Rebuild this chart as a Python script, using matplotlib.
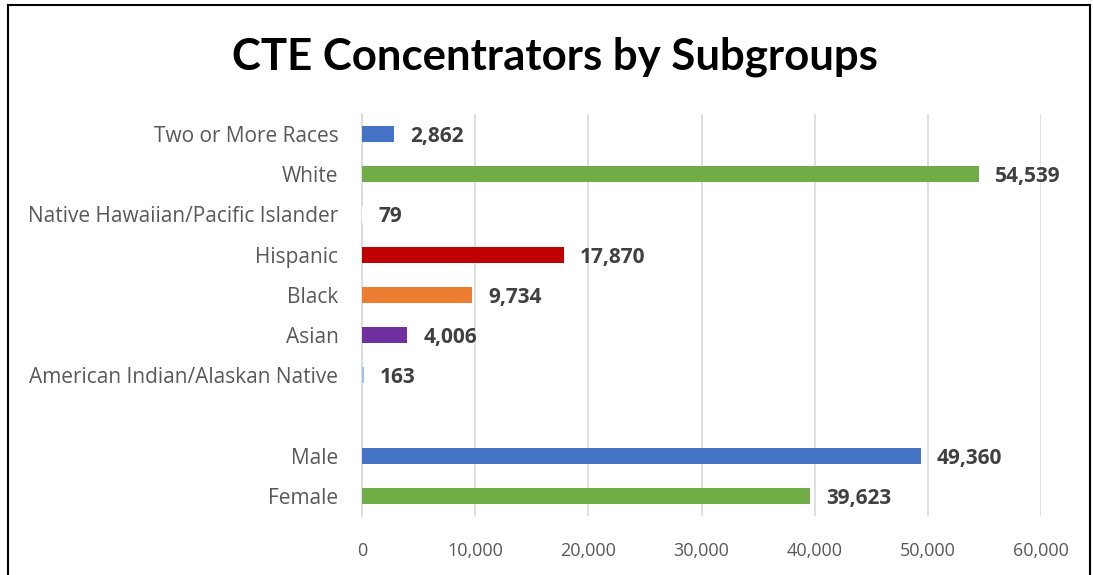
import matplotlib
matplotlib.use("Agg")
import matplotlib.pyplot as plt
from matplotlib.lines import Line2D

categories = ["Female", "Male", "", "American Indian/Alaskan Native", "Asian", "Black",
              "Hispanic", "Native Hawaiian/Pacific Islander", "White", "Two or More Races"]
values = [39623, 49360, None, 163, 4006, 9734, 17870, 79, 54539, 2862]
colors = ["#70AD47", "#4472C4", None, "#9DC3E6", "#7030A0", "#ED7D31",
          "#C00000", "#FFFFFF", "#70AD47", "#4472C4"]
xticks = [0, 10000, 20000, 30000, 40000, 50000, 60000]

plt.rcParams['font.family'] = ['Open Sans', 'DejaVu Sans']

fig = plt.figure(figsize=(10.93, 5.75), dpi=100)
ax = fig.add_axes([362/1093, 1-516/575, (1041-362)/1093, (516-114)/575])

for i, (v, c) in enumerate(zip(values, colors)):
    if v is None:
        continue
    ax.barh(i, v, height=0.4, color=c, zorder=3)
    ax.text(v + 1400, i - 0.06, f"{v:,}", va="center", ha="left",
            fontsize=15, fontweight="bold", color="#404040")

ax.set_xlim(0, 60000)
ax.set_ylim(-0.5, 9.5)
ax.set_xticks(xticks)
ax.set_xticklabels([f"{t:,}" for t in xticks], fontsize=13, color="#595959")
ax.set_yticks(range(len(categories)))
ax.set_yticklabels(categories, fontsize=15, color="#595959")
ax.tick_params(axis="both", length=0)
ax.tick_params(axis="x", pad=19)
ax.tick_params(axis="y", pad=17)
ax.grid(axis="x", color="#D9D9D9", linewidth=1.2, zorder=0)
for s in ["top", "right", "bottom"]:
    ax.spines[s].set_visible(False)
ax.spines["left"].set_color("#D9D9D9")
ax.spines["left"].set_linewidth(1.2)

fig.text(555/1093, 1-57/575, "CTE Concentrators by Subgroups", ha="center", va="center",
         family=['Lato', 'DejaVu Sans'], fontsize=31.5, fontweight="bold", color="black")

# border
fig.add_artist(Line2D([8/1093, 8/1093], [0, 1-5/575], color="black", lw=1.5, transform=fig.transFigure))
fig.add_artist(Line2D([1090/1093, 1090/1093], [0, 1-5/575], color="black", lw=1.5, transform=fig.transFigure))
fig.add_artist(Line2D([8/1093, 1090/1093], [1-5/575, 1-5/575], color="black", lw=1.5, transform=fig.transFigure))

fig.savefig("out.png", dpi=100)
